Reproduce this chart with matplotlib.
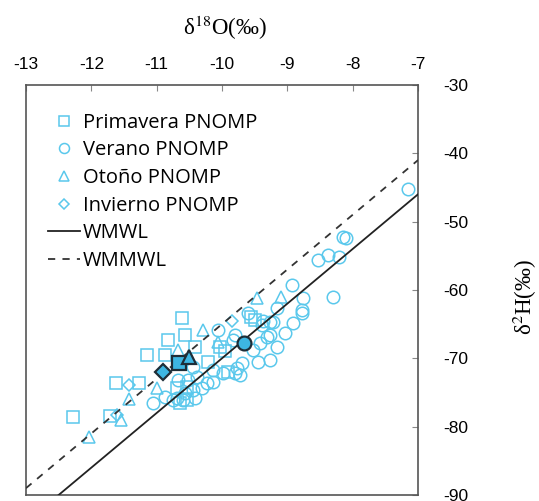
import matplotlib
matplotlib.use("Agg")
import matplotlib.pyplot as plt
import numpy as np

plt.rcParams["axes.unicode_minus"] = False
plt.rcParams["mathtext.fontset"] = "stix"

# Primavera (spring) samples: d18O, d2H
spring_o = [-12.28, -11.15, -10.87, -10.82, -11.62, -11.27, -11.71, -10.61, -10.57,
            -10.41, -10.03, -9.95, -10.21, -10.54, -9.91, -10.54, -10.69, -9.56, -9.49, -10.64]
spring_h = [-78.6, -69.5, -69.5, -67.3, -73.6, -73.6, -78.5, -64.1, -66.6,
            -68.4, -68.4, -68.9, -70.6, -74.2, -72.0, -76.1, -74.4, -64.0, -64.4, -76.6]

# Verano (summer) samples
summer_o = [-7.15, -8.15, -8.10, -8.53, -8.38, -8.21, -8.93, -8.30, -8.76, -8.78,
            -8.78, -8.91, -9.04, -9.16, -9.60, -9.37, -9.27, -9.27, -9.42, -9.16,
            -9.45, -9.31, -9.39, -9.22, -9.53, -9.27, -9.69, -9.80, -9.98, -10.14,
            -10.44, -10.38, -10.52, -10.67, -10.31, -10.44, -10.57, -10.60, -10.41, -10.75,
            -10.14, -10.23, -10.06, -9.83, -9.77, -9.72, -11.06, -10.87, -10.69, -9.80]
summer_h = [-45.2, -52.3, -52.4, -55.6, -54.9, -55.2, -59.3, -61.0, -61.2, -62.9,
            -63.4, -64.8, -66.3, -62.6, -63.4, -64.6, -64.7, -66.6, -67.8, -68.4,
            -70.6, -66.9, -65.1, -64.7, -68.8, -70.3, -70.7, -72.2, -72.2, -71.7,
            -71.3, -72.8, -73.2, -73.2, -74.4, -74.7, -75.1, -76.1, -75.8, -76.1,
            -73.5, -73.6, -65.9, -67.3, -71.4, -72.5, -76.6, -75.7, -75.8, -66.6]

# Otono (autumn) samples
autumn_o = [-12.04, -11.55, -11.42, -11.00, -10.29, -10.67, -10.06, -9.46, -9.09]
autumn_h = [-81.5, -79.0, -76.0, -74.4, -65.9, -68.8, -67.6, -61.2, -61.0]

# Invierno (winter) samples
winter_o = [-11.42, -11.61, -9.84]
winter_h = [-73.9, -78.3, -64.6]

# seasonal means (filled markers)
mean_o = {"s": -10.66, "o": -9.66, "^": -10.50, "D": -10.90}
mean_h = {"s": -70.7, "o": -67.8, "^": -69.8, "D": -72.0}

# meteoric water lines: d2H = slope * d18O + intercept
line_x = [-13, -7]
wmwl_slope, wmwl_int = 8, 10
wmmwl_slope, wmmwl_int = 8, 15

cyan = "#5AC8EC"
fill = "#3DB6E2"
dark = "#1E2E38"

fig = plt.figure(figsize=(5.39, 5.01), dpi=100)
ax = fig.add_axes([0.0482, 0.012, 0.7273, 0.8184])

ms = 9
kw = dict(linestyle="none", mfc="none", mec=cyan, mew=1.1, zorder=2)
ax.plot(spring_o, spring_h, marker="s", ms=ms, label="Primavera PNOMP", **kw)
ax.plot(summer_o, summer_h, marker="o", ms=ms, label="Verano PNOMP", **kw)
ax.plot(autumn_o, autumn_h, marker="^", ms=ms, label="Otoño PNOMP", **kw)
ax.plot(winter_o, winter_h, marker="D", ms=6.5, label="Invierno PNOMP", **kw)

lx = np.array(line_x, dtype=float)
ax.plot(lx, wmwl_slope * lx + wmwl_int, color="#222222", lw=1.3, zorder=3, label="WMWL")
ax.plot(lx, wmmwl_slope * lx + wmmwl_int, color="#333333", lw=1.3, ls=(0, (4, 4)),
        zorder=3, label="WMMWL")

for m in ["s", "o", "^", "D"]:
    ax.plot(mean_o[m], mean_h[m], marker=m, ms=(10 if m != "D" else 8), mfc=fill,
            mec=dark, mew=1.6, linestyle="none", zorder=4)

ax.set_xlim(-13, -7)
ax.set_ylim(-90, -30)
ax.set_xticks(range(-13, -6))
ax.set_yticks(range(-90, -29, 10))
ax.xaxis.tick_top()
ax.yaxis.tick_right()
ax.tick_params(axis="x", direction="in", length=4, pad=9, labelsize=12.5, color="#888888")
ax.tick_params(axis="y", direction="in", length=4, pad=18, labelsize=12.5, color="#888888")
for lab in ax.get_xticklabels() + ax.get_yticklabels():
    lab.set_family("Liberation Sans")
for sp in ax.spines.values():
    sp.set_color("#555555")
    sp.set_linewidth(1.2)

fig.text(225 / 539, 1 - 28 / 501, r"δ$^{18}$O(‰)", ha="center", va="center",
         fontsize=16.5, family="Liberation Serif")
fig.text(525 / 539, 1 - 297 / 501, r"δ$^{2}$H(‰)", ha="center", va="center",
         fontsize=16.5, family="Liberation Serif", rotation=90)

leg = ax.legend(loc="upper left", bbox_to_anchor=(0.02, 0.967), frameon=False,
                prop={"family": "Open Sans", "size": 14.5}, handlelength=1.6,
                handletextpad=0.15, labelspacing=0.38, borderaxespad=0.3,
                markerscale=0.8)

fig.savefig("out.png", dpi=100)
